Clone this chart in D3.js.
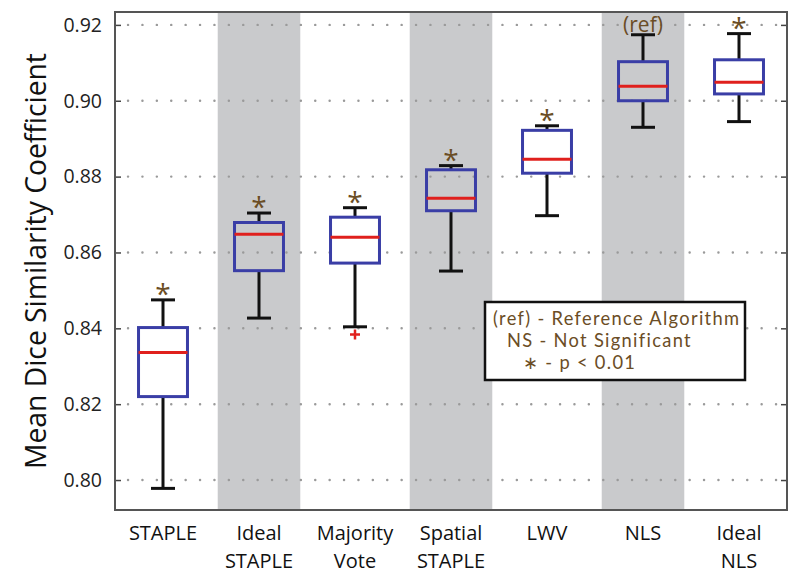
<!DOCTYPE html>
<html>
<head>
<meta charset="utf-8">
<script src="https://cdn.jsdelivr.net/npm/d3@7"></script>
<style>
  html, body { margin: 0; padding: 0; background: #fff; }
  svg { display: block; font-family: "Open Sans", "DejaVu Sans", sans-serif; }
</style>
</head>
<body>
<svg id="chart" width="800" height="580"></svg>
<script>
// ---- data ----
const categories = [["STAPLE"], ["Ideal", "STAPLE"], ["Majority", "Vote"], ["Spatial", "STAPLE"], ["LWV"], ["NLS"], ["Ideal", "NLS"]];
const lowerWhisker = [0.7978, 0.8427, 0.8404, 0.8551, 0.8697, 0.8930, 0.8945];
const q1Values     = [0.8220, 0.8552, 0.8572, 0.8710, 0.8809, 0.9000, 0.9018];
const medianValues = [0.8336, 0.8648, 0.8640, 0.8743, 0.8846, 0.9038, 0.9049];
const q3Values     = [0.8402, 0.8679, 0.8693, 0.8818, 0.8922, 0.9103, 0.9108];
const upperWhisker = [0.8475, 0.8704, 0.8718, 0.8829, 0.8934, 0.9174, 0.9177];
const outliers     = [[], [], [0.8384], [], [], [], []];
const significance = ["*", "*", "*", "*", "*", "(ref)", "*"];
const shaded       = [false, true, false, true, false, true, false];
const yTicks       = [0.80, 0.82, 0.84, 0.86, 0.88, 0.90, 0.92];
const yDomain      = [0.7921, 0.9234];
const yLabel       = "Mean Dice Similarity Coefficient";
const legendLines  = ["(ref) - Reference Algorithm", "NS - Not Significant", "\u2217 - p < 0.01"];

// ---- layout ----
const L = 115, R = 787, T = 12, B = 510;
const svg = d3.select("#chart");
const idx = categories.map((d, i) => i);
const x = d3.scaleBand().domain(idx).range([L, R]).padding(0);
const y = d3.scaleLinear().domain(yDomain).range([B, T]);
const cx = i => x(i) + x.bandwidth() / 2;

const BLUE = "#3a3ea6", RED = "#e0201d", BROWN = "#6b4d25", GRAY = "#c9cacc";

// shaded columns
svg.append("g").selectAll("rect").data(idx.filter(i => shaded[i])).join("rect")
  .attr("x", i => cx(i) - x.bandwidth() * 0.43)
  .attr("width", x.bandwidth() * 0.86)
  .attr("y", T).attr("height", B - T)
  .attr("fill", GRAY);

// dotted gridlines
svg.append("g").selectAll("line").data(yTicks).join("line")
  .attr("x1", L + 13).attr("x2", R)
  .attr("y1", d => y(d)).attr("y2", d => y(d))
  .attr("stroke", "#9a9a9a").attr("stroke-width", 2.4)
  .attr("stroke-linecap", "round")
  .attr("stroke-dasharray", "0.1,14.3");

// y axis
const yAxis = svg.append("g").attr("transform", `translate(${L},0)`)
  .call(d3.axisLeft(y).tickValues(yTicks).tickFormat(d3.format(".2f"))
    .tickSizeInner(-6).tickSizeOuter(0).tickPadding(13));
yAxis.select(".domain").remove();
yAxis.selectAll(".tick line").attr("stroke", "#444").attr("stroke-width", 1.5);
yAxis.selectAll(".tick text").attr("font-size", 19.5).attr("fill", "#222")
  .attr("font-family", "'Open Sans', sans-serif");

// right ticks
const yAxisR = svg.append("g").attr("transform", `translate(${R},0)`)
  .call(d3.axisRight(y).tickValues(yTicks).tickFormat("").tickSizeInner(-6).tickSizeOuter(0));
yAxisR.select(".domain").remove();
yAxisR.selectAll(".tick line").attr("stroke", "#444").attr("stroke-width", 1.5);

// frame
svg.append("rect").attr("x", L).attr("y", T).attr("width", R - L).attr("height", B - T)
  .attr("fill", "none").attr("stroke", "#555").attr("stroke-width", 2);

// boxes
const half = x.bandwidth() * 0.255, cap = x.bandwidth() * 0.125;
const g = svg.append("g").selectAll("g").data(idx).join("g");
g.append("line") // upper whisker
  .attr("x1", cx).attr("x2", cx)
  .attr("y1", i => y(q3Values[i])).attr("y2", i => y(upperWhisker[i]))
  .attr("stroke", "#111").attr("stroke-width", 3);
g.append("line")
  .attr("x1", cx).attr("x2", cx)
  .attr("y1", i => y(q1Values[i])).attr("y2", i => y(lowerWhisker[i]))
  .attr("stroke", "#111").attr("stroke-width", 3);
g.append("line")
  .attr("x1", i => cx(i) - cap).attr("x2", i => cx(i) + cap)
  .attr("y1", i => y(upperWhisker[i])).attr("y2", i => y(upperWhisker[i]))
  .attr("stroke", "#111").attr("stroke-width", 3);
g.append("line")
  .attr("x1", i => cx(i) - cap).attr("x2", i => cx(i) + cap)
  .attr("y1", i => y(lowerWhisker[i])).attr("y2", i => y(lowerWhisker[i]))
  .attr("stroke", "#111").attr("stroke-width", 3);
g.append("rect")
  .attr("x", i => cx(i) - half).attr("width", half * 2)
  .attr("y", i => y(q3Values[i])).attr("height", i => y(q1Values[i]) - y(q3Values[i]))
  .attr("fill", i => shaded[i] ? "none" : "#fff")
  .attr("stroke", BLUE).attr("stroke-width", 3);
g.append("line")
  .attr("x1", i => cx(i) - half).attr("x2", i => cx(i) + half)
  .attr("y1", i => y(medianValues[i])).attr("y2", i => y(medianValues[i]))
  .attr("stroke", RED).attr("stroke-width", 3);

// outliers
g.each(function(i) {
  d3.select(this).selectAll("path.out").data(outliers[i]).join("path")
    .attr("class", "out")
    .attr("d", v => `M${cx(i) - 5},${y(v)}H${cx(i) + 5}M${cx(i)},${y(v) - 5}V${y(v) + 5}`)
    .attr("stroke", RED).attr("stroke-width", 2.5);
});

// significance markers
g.append("text")
  .attr("x", cx)
  .attr("y", i => significance[i] === "*" ? y(upperWhisker[i]) + 4 : y(upperWhisker[i]) - 3)
  .attr("text-anchor", "middle")
  .attr("font-size", i => significance[i] === "*" ? 28 : 21)
  .attr("fill", BROWN)
  .text(i => significance[i]);

// x labels
const xl = svg.append("g").selectAll("text").data(idx).join("text")
  .attr("x", cx).attr("y", 540).attr("text-anchor", "middle")
  .attr("font-size", 20).attr("fill", "#111");
xl.selectAll("tspan").data(i => categories[i].map(s => ({ s, i }))).join("tspan")
  .attr("x", d => cx(d.i)).attr("dy", (d, k) => k === 0 ? 0 : 28)
  .text(d => d.s);

// y label
const yl = svg.append("text")
  .attr("transform", `translate(46,${(T + B) / 2}) rotate(-90)`)
  .attr("text-anchor", "middle").attr("font-size", 22).attr("fill", "#111")
  .text(yLabel);
const w = yl.node().getComputedTextLength();
yl.attr("font-size", 22 * 416 / w);

// legend
const lg = svg.append("g");
lg.append("rect").attr("x", 485).attr("y", 302).attr("width", 260).attr("height", 78)
  .attr("fill", "#fff").attr("stroke", "#111").attr("stroke-width", 2.5);
const legX = [493, 507, 523], legY = [325, 347, 369];
const lt = lg.selectAll("text").data(legendLines).join("text")
  .attr("x", (d, k) => legX[k]).attr("y", (d, k) => legY[k])
  .attr("font-family", "Lato, 'Open Sans', sans-serif")
  .attr("font-size", 18.3).attr("fill", BROWN).text(d => d);
const w0 = lt.nodes()[0].getComputedTextLength();
const ls = Math.max(0, (246 - w0) / (legendLines[0].length - 1));
lt.attr("letter-spacing", ls);
</script>
</body>
</html>
